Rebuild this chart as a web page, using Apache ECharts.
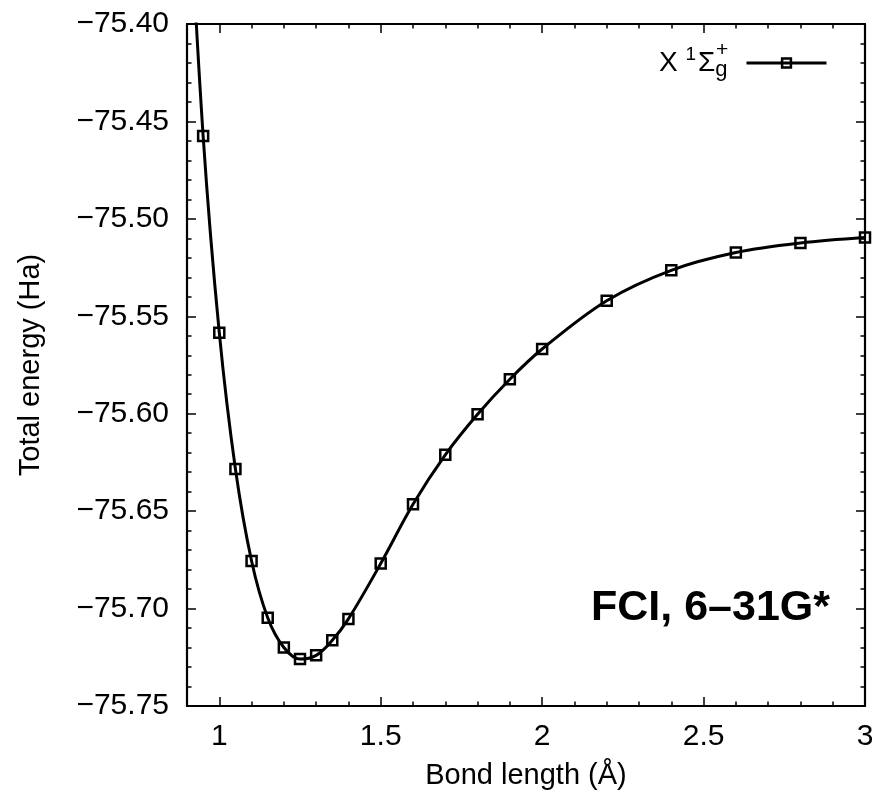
<!DOCTYPE html>
<html>
<head>
<meta charset="utf-8">
<script src="https://cdn.jsdelivr.net/npm/echarts@6/dist/echarts.min.js"></script>
<style>
html,body{margin:0;padding:0;background:#fff;}
#chart{width:879px;height:797px;}
</style>
</head>
<body>
<div id="chart"></div>
<script>
// Data
var bondLength = [0.90, 0.95, 1.00, 1.05, 1.10, 1.15, 1.20, 1.25, 1.30, 1.35, 1.40, 1.50, 1.60, 1.70, 1.80, 1.90, 2.00, 2.20, 2.40, 2.60, 2.80, 3.00];
var totalEnergy = [-75.310, -75.4575, -75.5584, -75.6284, -75.6756, -75.7047, -75.7200, -75.7259, -75.7240, -75.7163, -75.7053, -75.6769, -75.6465, -75.6211, -75.6003, -75.5823, -75.5668, -75.5420, -75.5264, -75.5173, -75.5124, -75.5096];
var xMajorTicks = [1, 1.5, 2, 2.5, 3];
var xMinorTicks = [0.9, 1.0, 1.1, 1.2, 1.3, 1.4, 1.5, 1.6, 1.7, 1.8, 1.9, 2.0, 2.1, 2.2, 2.3, 2.4, 2.5, 2.6, 2.7, 2.8, 2.9, 3.0];
var seriesName = 'X 1Σg+';
var annotation = 'FCI, 6–31G*';
var xTitle = 'Bond length (Å)';
var yTitle = 'Total energy (Ha)';

var FONT = 'Liberation Sans, Arial, sans-serif';
var chart = echarts.init(document.getElementById('chart'), null, {renderer: 'canvas'});

var points = bondLength.map(function (x, i) { return [x, totalEnergy[i]]; });

function xAxisDef(pos, ticks, len, showLabel, extra) {
  var a = {
    type: 'value', position: pos, min: 0.9, max: 3,
    axisLine: {show: true, onZero: false, lineStyle: {color: '#000', width: 2.2}},
    axisTick: {show: true, inside: true, length: len, lineStyle: {color: '#000', width: 1.5}, customValues: ticks},
    axisLabel: {show: showLabel, customValues: ticks, margin: 16, color: '#000', fontSize: 30, fontFamily: FONT,
      formatter: function (v) { return String(+v.toFixed(2)); }},
    splitLine: {show: false}
  };
  if (extra) { for (var k in extra) a[k] = extra[k]; }
  return a;
}
function yAxisDef(pos, showLabel, extra) {
  var a = {
    type: 'value', position: pos, min: -75.75, max: -75.40, interval: 0.05,
    axisLine: {show: true, onZero: false, lineStyle: {color: '#000', width: 2.2}},
    axisTick: {show: true, inside: true, length: 9, lineStyle: {color: '#000', width: 1.5}},
    minorTick: {show: true, splitNumber: 5, length: 4.5, lineStyle: {color: '#000', width: 1.5}},
    axisLabel: {show: showLabel, margin: 18, color: '#000', fontSize: 30, fontFamily: FONT,
      formatter: function (v) { return '\u2212' + Math.abs(v).toFixed(2); }},
    splitLine: {show: false}
  };
  if (extra) { for (var k in extra) a[k] = extra[k]; }
  return a;
}

var option = {
  backgroundColor: '#fff',
  animation: false,
  grid: {left: 187, right: 14, top: 24, height: 682, containLabel: false},
  xAxis: [
    xAxisDef('bottom', xMajorTicks, 9, true, {
      name: xTitle, nameLocation: 'middle', nameGap: 55,
      nameTextStyle: {color: '#000', fontSize: 29, fontFamily: FONT}
    }),
    xAxisDef('bottom', xMinorTicks, 4.5, false),
    xAxisDef('top', xMajorTicks, 9, false),
    xAxisDef('top', xMinorTicks, 4.5, false)
  ],
  yAxis: [
    yAxisDef('left', true, {
      name: yTitle, nameLocation: 'middle', nameGap: 142, nameRotate: 90,
      nameTextStyle: {color: '#000', fontSize: 29, fontFamily: FONT}
    }),
    yAxisDef('right', false)
  ],
  legend: {
    show: true, right: 51, top: 45, align: 'right', padding: 0,
    itemWidth: 80, itemHeight: 11, itemGap: 10,
    data: [seriesName],
    lineStyle: {color: '#000', width: 3},
    itemStyle: {color: 'rgba(255,255,255,0)', borderColor: '#000', borderWidth: 2.5},
    formatter: function () { return '{x|X }{sup|1}{s|Σ}{sub|g}{pad| }'; },
    textStyle: {
      color: '#000', fontFamily: FONT,
      rich: {
        x: {fontSize: 28, fontFamily: FONT, color: '#000', lineHeight: 36, verticalAlign: 'middle'},
        sup: {fontSize: 19, fontFamily: FONT, color: '#000', lineHeight: 36, verticalAlign: 'top', padding: [0, 2, 0, 0]},
        s: {fontSize: 28, fontFamily: FONT, color: '#000', lineHeight: 36, verticalAlign: 'middle'},
        sub: {fontSize: 22, fontFamily: FONT, color: '#000', lineHeight: 36, verticalAlign: 'bottom'},
        pad: {fontSize: 16, width: 14}
      }
    }
  },
  title: {
    text: annotation, right: 44, top: 582,
    textStyle: {color: '#000', fontSize: 43, fontWeight: 'bold', fontFamily: FONT}
  },
  graphic: [
    {type: 'text', left: 716, top: 40, style: {text: '+', fontSize: 21, fontFamily: FONT, fill: '#000'}}
  ],
  series: [{
    name: seriesName,
    type: 'line',
    xAxisIndex: 0, yAxisIndex: 0,
    data: points,
    smooth: 0.35,
    clip: true,
    symbol: 'rect',
    symbolSize: 10,
    showAllSymbol: true,
    lineStyle: {color: '#000', width: 3},
    itemStyle: {color: 'rgba(255,255,255,0)', borderColor: '#000', borderWidth: 2.5}
  }]
};
chart.setOption(option);
</script>
</body>
</html>
